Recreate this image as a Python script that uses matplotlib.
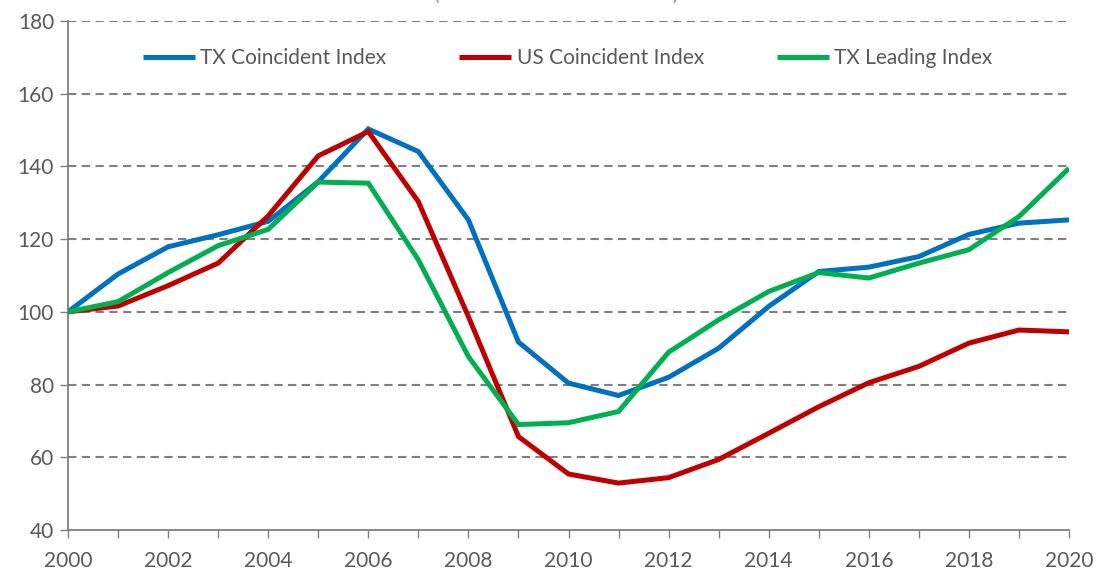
"""Texas vs US coincident / leading indexes, 2000-2020 (2000 = 100)."""
import matplotlib
matplotlib.use("Agg")
import matplotlib.pyplot as plt

years = list(range(2000, 2021))

tx_coincident = [100.0, 110.4, 117.9, 121.2, 124.9, 135.8, 150.3, 144.1, 125.3, 91.7,
                 80.4, 77.0, 82.0, 90.0, 101.5, 111.1, 112.3, 115.2, 121.3, 124.4, 125.3]
us_coincident = [100.0, 101.6, 107.2, 113.4, 126.4, 142.9, 149.6, 130.3, 98.7, 65.7,
                 55.4, 52.9, 54.4, 59.4, 66.6, 73.9, 80.5, 85.0, 91.4, 95.0, 94.5]
tx_leading = [100.0, 102.8, 110.8, 118.2, 122.7, 135.7, 135.4, 114.3, 87.7, 69.0,
              69.5, 72.6, 88.9, 97.8, 105.6, 110.8, 109.3, 113.4, 117.1, 126.2, 139.5]

series = [
    ("TX Coincident Index", tx_coincident, "#0070C0"),
    ("US Coincident Index", us_coincident, "#C00000"),
    ("TX Leading Index", tx_leading, "#00B050"),
]

y_ticks = [40, 60, 80, 100, 120, 140, 160, 180]
x_labels = list(range(2000, 2021, 2))

plt.rcParams["font.family"] = ["Lato", "DejaVu Sans"]
GRAY = "#808080"
TXT = "#595959"

fig = plt.figure(figsize=(10.99, 5.72), dpi=100)
ax = fig.add_axes([68 / 1099, 42 / 572, 1001 / 1099, 509 / 572])

for label, vals, col in series:
    ax.plot(years, vals, color=col, lw=3.6, label=label, solid_capstyle="butt",
            solid_joinstyle="miter", zorder=3)

ax.set_xlim(2000, 2020)
ax.set_ylim(40, 180)
ax.set_yticks(y_ticks)
ax.set_xticks(years, minor=True)
ax.set_xticks(x_labels)
ax.set_xticklabels([str(y) for y in x_labels])

for y in y_ticks[1:]:
    ax.axhline(y, color=GRAY, lw=1.5, ls=(0, (4, 2.6)), zorder=1)

for s in ("top", "right"):
    ax.spines[s].set_visible(False)
for s in ("left", "bottom"):
    ax.spines[s].set_color(GRAY)
    ax.spines[s].set_linewidth(1.3)
ax.spines["bottom"].set_zorder(4)

ax.tick_params(axis="both", which="both", direction="out", color=GRAY, width=1.0,
               labelsize=15, labelcolor=TXT)
ax.tick_params(axis="x", which="both", length=6, pad=9)
ax.tick_params(axis="y", length=6, pad=4)

leg = ax.legend(loc="center", bbox_to_anchor=(0.499, 0.927), ncol=3, frameon=False,
                fontsize=15, handlelength=2.5, handletextpad=0.25, columnspacing=3.5,
                labelcolor=TXT)

# title above the crop: only the bottoms of its brackets show
fig.text(0.506, 1.0, "(Annual Index 2000 = 100)", ha="center", va="baseline",
         fontsize=15, color="#8A8FC0")

fig.savefig("out.png", dpi=100)
